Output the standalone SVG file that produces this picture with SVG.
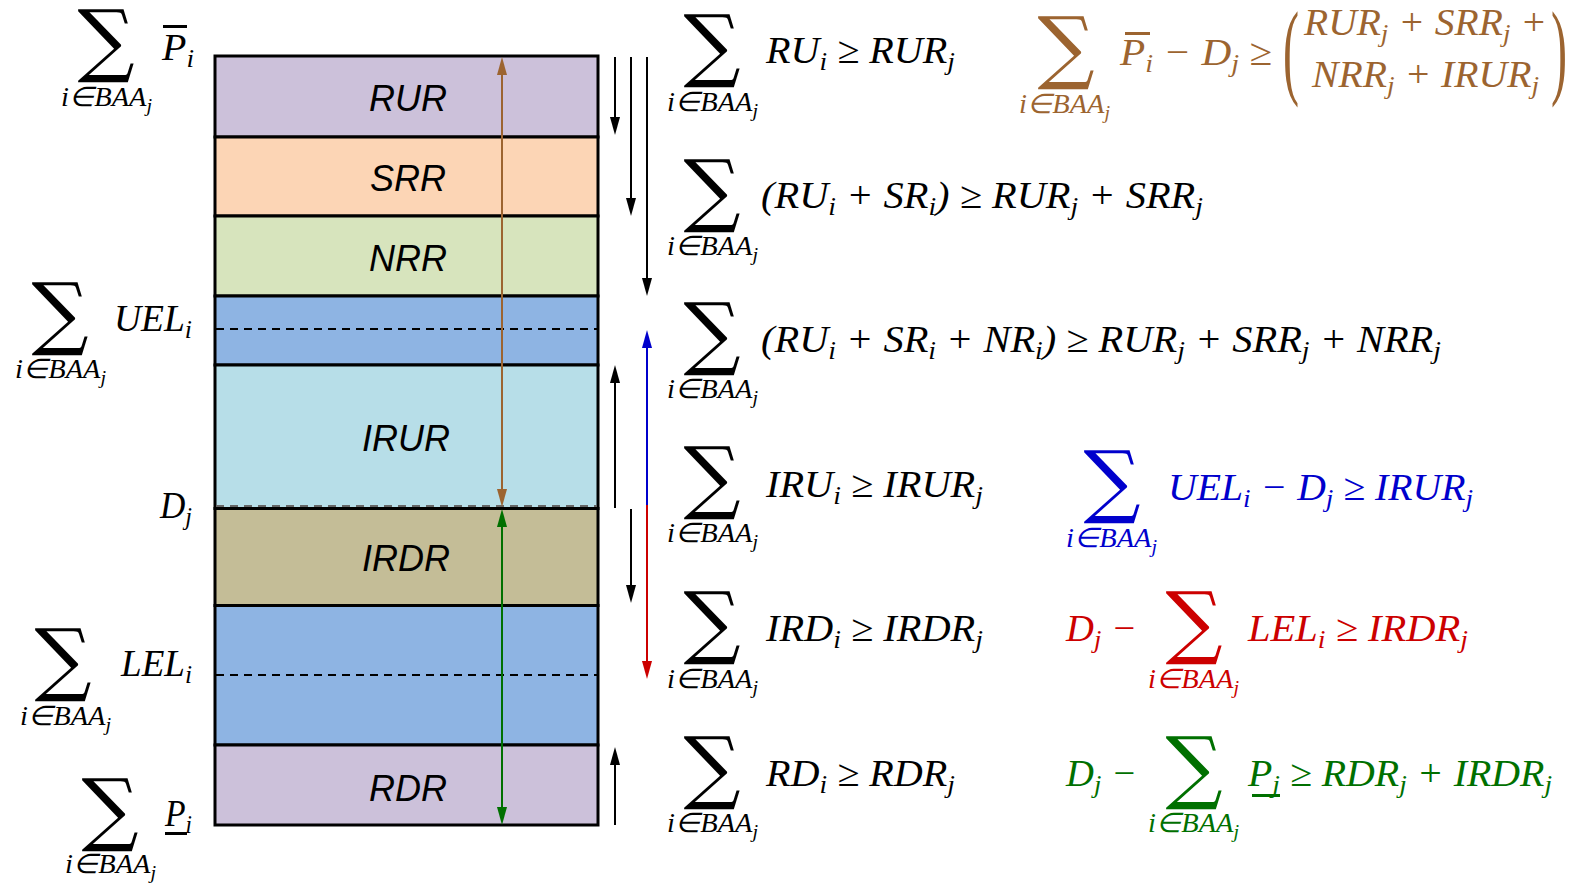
<svg xmlns="http://www.w3.org/2000/svg" width="1585" height="884" viewBox="0 0 1585 884">
<style>
.band{stroke:#000;stroke-width:3}
.dash{stroke:#000;stroke-width:2;stroke-dasharray:8 6;fill:none}
.lbl{font-family:"Liberation Sans",Arial,sans-serif;font-style:italic;font-size:36px;text-anchor:middle;fill:#000}
.m{font-family:"Liberation Serif","Times New Roman",serif;font-style:italic;font-size:38px}
.s{font-size:26px}
.sub{font-family:"Liberation Serif","Times New Roman",serif;font-style:italic;font-size:27px}
.sj{font-size:19px}
.sig{font-family:"DejaVu Serif",serif;font-size:80px;text-anchor:middle;font-style:normal}
.par{font-family:"Liberation Serif",serif;font-size:105px;font-style:normal}
.k{fill:#000}
.br{fill:#9C6430}
.bl{fill:#0000CC}
.rd{fill:#CC0000}
.gr{fill:#007000}
.ln{fill:none;stroke-width:2}
</style>
<defs>
<marker id="ak" markerUnits="userSpaceOnUse" markerWidth="18" markerHeight="10" viewBox="0 0 18 10" refX="8" refY="5" orient="auto-start-reverse"><path d="M0,0 L18,5 L0,10 z" fill="#000"/></marker>
<marker id="ab" markerUnits="userSpaceOnUse" markerWidth="18" markerHeight="10" viewBox="0 0 18 10" refX="8" refY="5" orient="auto-start-reverse"><path d="M0,0 L18,5 L0,10 z" fill="#0000CC"/></marker>
<marker id="ar" markerUnits="userSpaceOnUse" markerWidth="18" markerHeight="10" viewBox="0 0 18 10" refX="8" refY="5" orient="auto-start-reverse"><path d="M0,0 L18,5 L0,10 z" fill="#CC0000"/></marker>
<marker id="ao" markerUnits="userSpaceOnUse" markerWidth="18" markerHeight="10" viewBox="0 0 18 10" refX="8" refY="5" orient="auto-start-reverse"><path d="M0,0 L18,5 L0,10 z" fill="#9C6430"/></marker>
<marker id="ag" markerUnits="userSpaceOnUse" markerWidth="18" markerHeight="10" viewBox="0 0 18 10" refX="8" refY="5" orient="auto-start-reverse"><path d="M0,0 L18,5 L0,10 z" fill="#007000"/></marker>
</defs>

<g id="band-RUR"><rect class="band" x="215" y="56" width="383" height="81" fill="#CCC1DA"/><text class="lbl" x="408" y="111">RUR</text></g>
<g id="band-SRR"><rect class="band" x="215" y="137" width="383" height="79" fill="#FCD5B5"/><text class="lbl" x="408" y="191">SRR</text></g>
<g id="band-NRR"><rect class="band" x="215" y="216" width="383" height="80" fill="#D7E4BD"/><text class="lbl" x="408" y="271">NRR</text></g>
<g id="band-UEL"><rect class="band" x="215" y="296" width="383" height="69" fill="#8EB4E3"/><line class="dash" x1="216" y1="329" x2="597" y2="329"/></g>
<g id="band-IRUR"><rect class="band" x="215" y="365" width="383" height="143.5" fill="#B7DEE8"/><line x1="216" y1="506" x2="597" y2="506" stroke="#666" stroke-width="2" stroke-dasharray="8 6"/><text class="lbl" x="406" y="451">IRUR</text></g>
<g id="band-IRDR"><rect class="band" x="215" y="508.5" width="383" height="97" fill="#C4BD97"/><text class="lbl" x="406" y="571">IRDR</text></g>
<g id="band-LEL"><rect class="band" x="215" y="605.5" width="383" height="139.5" fill="#8EB4E3"/><line class="dash" x1="216" y1="675" x2="597" y2="675"/></g>
<g id="band-RDR"><rect class="band" x="215" y="745" width="383" height="80" fill="#CCC1DA"/><text class="lbl" x="408" y="801">RDR</text></g>

<g id="connectors">
<line class="ln" stroke="#000" x1="615" y1="57" x2="615" y2="125" marker-end="url(#ak)"/>
<line class="ln" stroke="#000" x1="631" y1="57" x2="631" y2="206" marker-end="url(#ak)"/>
<line class="ln" stroke="#000" x1="647" y1="57" x2="647" y2="286" marker-end="url(#ak)"/>
<line class="ln" stroke="#000" x1="615" y1="508" x2="615" y2="375" marker-end="url(#ak)"/>
<line class="ln" stroke="#0000CC" x1="647" y1="505" x2="647" y2="340" marker-end="url(#ab)"/>
<line class="ln" stroke="#000" x1="631" y1="509" x2="631" y2="593" marker-end="url(#ak)"/>
<line class="ln" stroke="#CC0000" x1="647" y1="505" x2="647" y2="669" marker-end="url(#ar)"/>
<line class="ln" stroke="#000" x1="615" y1="825" x2="615" y2="757" marker-end="url(#ak)"/>
<line class="ln" stroke="#9C6430" x1="502" y1="67" x2="502" y2="497" marker-start="url(#ao)" marker-end="url(#ao)"/>
<line class="ln" stroke="#007000" x1="502" y1="519" x2="502" y2="815" marker-start="url(#ag)" marker-end="url(#ag)"/>
</g>

<g id="left-Pmax" class="k">
<text class="sig" x="106" y="67">∑</text>
<text class="sub" x="61" y="106" textLength="91" lengthAdjust="spacingAndGlyphs">i∈BAA<tspan class="sj" dy="6">j</tspan></text>
<text class="m" x="162" y="60" textLength="32" lengthAdjust="spacingAndGlyphs">P<tspan class="s" dy="7">i</tspan></text>
<rect x="163" y="25" width="24" height="3"/>
</g>
<g id="left-UEL" class="k">
<text class="sig" x="60" y="340">∑</text>
<text class="sub" x="15" y="378" textLength="91" lengthAdjust="spacingAndGlyphs">i∈BAA<tspan class="sj" dy="6">j</tspan></text>
<text class="m" x="114" y="331" textLength="78" lengthAdjust="spacingAndGlyphs">UEL<tspan class="s" dy="7">i</tspan></text>
</g>
<g id="left-D" class="k">
<text class="m" x="160" y="518" textLength="32" lengthAdjust="spacingAndGlyphs">D<tspan class="s" dy="7">j</tspan></text>
</g>
<g id="left-LEL" class="k">
<text class="sig" x="63" y="686">∑</text>
<text class="sub" x="20" y="725" textLength="91" lengthAdjust="spacingAndGlyphs">i∈BAA<tspan class="sj" dy="6">j</tspan></text>
<text class="m" x="121" y="676" textLength="71" lengthAdjust="spacingAndGlyphs">LEL<tspan class="s" dy="7">i</tspan></text>
</g>
<g id="left-Pmin" class="k">
<text class="sig" x="110" y="836">∑</text>
<text class="sub" x="65" y="873" textLength="91" lengthAdjust="spacingAndGlyphs">i∈BAA<tspan class="sj" dy="6">j</tspan></text>
<text class="m" x="165" y="826" textLength="27" lengthAdjust="spacingAndGlyphs">P<tspan class="s" dy="7">i</tspan></text>
<rect x="165" y="832" width="22" height="3"/>
</g>

<g id="eq-RU" class="k">
<text class="sig" x="712" y="72">∑</text>
<text class="sub" x="667" y="111" textLength="91" lengthAdjust="spacingAndGlyphs">i∈BAA<tspan class="sj" dy="6">j</tspan></text>
<text class="m" x="766" y="63" textLength="189" lengthAdjust="spacingAndGlyphs">RU<tspan class="s" dy="7">i</tspan><tspan dy="-7"> ≥ RUR</tspan><tspan class="s" dy="7">j</tspan></text>
</g>
<g id="eq-SR" class="k">
<text class="sig" x="712" y="217">∑</text>
<text class="sub" x="667" y="255" textLength="91" lengthAdjust="spacingAndGlyphs">i∈BAA<tspan class="sj" dy="6">j</tspan></text>
<text class="m" x="761" y="208" textLength="442" lengthAdjust="spacingAndGlyphs">(RU<tspan class="s" dy="7">i</tspan><tspan dy="-7"> + SR</tspan><tspan class="s" dy="7">i</tspan><tspan dy="-7">) ≥ RUR</tspan><tspan class="s" dy="7">j</tspan><tspan dy="-7"> + SRR</tspan><tspan class="s" dy="7">j</tspan></text>
</g>
<g id="eq-NR" class="k">
<text class="sig" x="712" y="360">∑</text>
<text class="sub" x="667" y="398" textLength="91" lengthAdjust="spacingAndGlyphs">i∈BAA<tspan class="sj" dy="6">j</tspan></text>
<text class="m" x="761" y="352" textLength="680" lengthAdjust="spacingAndGlyphs">(RU<tspan class="s" dy="7">i</tspan><tspan dy="-7"> + SR</tspan><tspan class="s" dy="7">i</tspan><tspan dy="-7"> + NR</tspan><tspan class="s" dy="7">i</tspan><tspan dy="-7">) ≥ RUR</tspan><tspan class="s" dy="7">j</tspan><tspan dy="-7"> + SRR</tspan><tspan class="s" dy="7">j</tspan><tspan dy="-7"> + NRR</tspan><tspan class="s" dy="7">j</tspan></text>
</g>
<g id="eq-IRU" class="k">
<text class="sig" x="712" y="504">∑</text>
<text class="sub" x="667" y="542" textLength="91" lengthAdjust="spacingAndGlyphs">i∈BAA<tspan class="sj" dy="6">j</tspan></text>
<text class="m" x="766" y="497" textLength="217" lengthAdjust="spacingAndGlyphs">IRU<tspan class="s" dy="7">i</tspan><tspan dy="-7"> ≥ IRUR</tspan><tspan class="s" dy="7">j</tspan></text>
</g>
<g id="eq-IRD" class="k">
<text class="sig" x="712" y="649">∑</text>
<text class="sub" x="667" y="688" textLength="91" lengthAdjust="spacingAndGlyphs">i∈BAA<tspan class="sj" dy="6">j</tspan></text>
<text class="m" x="766" y="641" textLength="217" lengthAdjust="spacingAndGlyphs">IRD<tspan class="s" dy="7">i</tspan><tspan dy="-7"> ≥ IRDR</tspan><tspan class="s" dy="7">j</tspan></text>
</g>
<g id="eq-RD" class="k">
<text class="sig" x="712" y="794">∑</text>
<text class="sub" x="667" y="832" textLength="91" lengthAdjust="spacingAndGlyphs">i∈BAA<tspan class="sj" dy="6">j</tspan></text>
<text class="m" x="766" y="786" textLength="189" lengthAdjust="spacingAndGlyphs">RD<tspan class="s" dy="7">i</tspan><tspan dy="-7"> ≥ RDR</tspan><tspan class="s" dy="7">j</tspan></text>
</g>

<g id="eq-brown" class="br">
<text class="sig" x="1066" y="74">∑</text>
<text class="sub" x="1019" y="113" textLength="91" lengthAdjust="spacingAndGlyphs">i∈BAA<tspan class="sj" dy="6">j</tspan></text>
<text class="m" x="1120" y="65" textLength="152" lengthAdjust="spacingAndGlyphs">P<tspan class="s" dy="7">i</tspan><tspan dy="-7"> − D</tspan><tspan class="s" dy="7">j</tspan><tspan dy="-7"> ≥</tspan></text>
<rect x="1125" y="32" width="25" height="3"/>
<text class="par" x="1283" y="85" textLength="16" lengthAdjust="spacingAndGlyphs">(</text>
<text class="m" x="1304" y="35" textLength="243" lengthAdjust="spacingAndGlyphs">RUR<tspan class="s" dy="7">j</tspan><tspan dy="-7"> + SRR</tspan><tspan class="s" dy="7">j</tspan><tspan dy="-7"> +</tspan></text>
<text class="m" x="1312" y="87" textLength="227" lengthAdjust="spacingAndGlyphs">NRR<tspan class="s" dy="7">j</tspan><tspan dy="-7"> + IRUR</tspan><tspan class="s" dy="7">j</tspan></text>
<text class="par" x="1551" y="85" textLength="16" lengthAdjust="spacingAndGlyphs">)</text>
</g>
<g id="eq-blue" class="bl">
<text class="sig" x="1112" y="508">∑</text>
<text class="sub" x="1066" y="547" textLength="91" lengthAdjust="spacingAndGlyphs">i∈BAA<tspan class="sj" dy="6">j</tspan></text>
<text class="m" x="1168" y="500" textLength="305" lengthAdjust="spacingAndGlyphs">UEL<tspan class="s" dy="7">i</tspan><tspan dy="-7"> − D</tspan><tspan class="s" dy="7">j</tspan><tspan dy="-7"> ≥ IRUR</tspan><tspan class="s" dy="7">j</tspan></text>
</g>
<g id="eq-red" class="rd">
<text class="m" x="1066" y="641" textLength="71" lengthAdjust="spacingAndGlyphs">D<tspan class="s" dy="7">j</tspan><tspan dy="-7"> −</tspan></text>
<text class="sig" x="1194" y="649">∑</text>
<text class="sub" x="1148" y="688" textLength="91" lengthAdjust="spacingAndGlyphs">i∈BAA<tspan class="sj" dy="6">j</tspan></text>
<text class="m" x="1248" y="641" textLength="220" lengthAdjust="spacingAndGlyphs">LEL<tspan class="s" dy="7">i</tspan><tspan dy="-7"> ≥ IRDR</tspan><tspan class="s" dy="7">j</tspan></text>
</g>
<g id="eq-green" class="gr">
<text class="m" x="1066" y="786" textLength="71" lengthAdjust="spacingAndGlyphs">D<tspan class="s" dy="7">j</tspan><tspan dy="-7"> −</tspan></text>
<text class="sig" x="1194" y="794">∑</text>
<text class="sub" x="1148" y="832" textLength="91" lengthAdjust="spacingAndGlyphs">i∈BAA<tspan class="sj" dy="6">j</tspan></text>
<text class="m" x="1248" y="786" textLength="304" lengthAdjust="spacingAndGlyphs">P<tspan class="s" dy="7">j</tspan><tspan dy="-7"> ≥ RDR</tspan><tspan class="s" dy="7">j</tspan><tspan dy="-7"> + IRDR</tspan><tspan class="s" dy="7">j</tspan></text>
<rect x="1252" y="794" width="28" height="3"/>
</g>
</svg>
